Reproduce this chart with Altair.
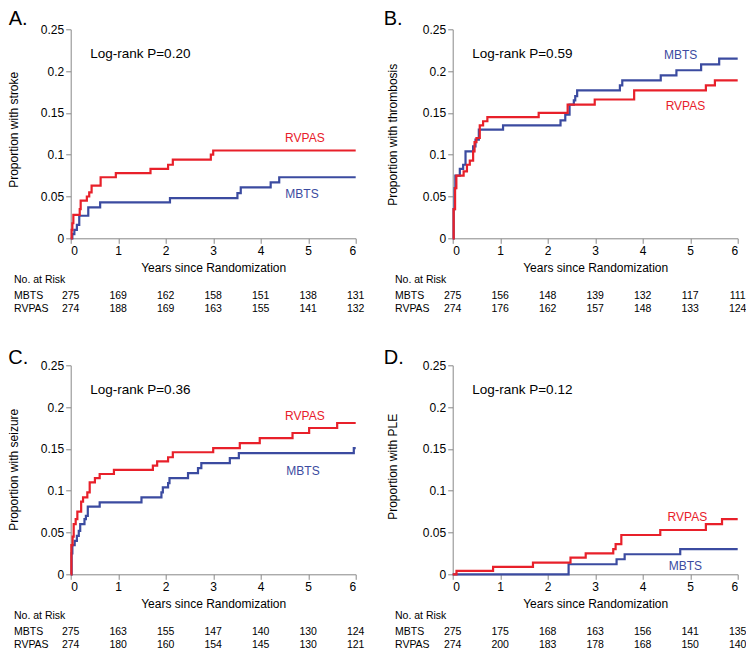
import altair as alt
import pandas as pd

RED = "#e8202a"
BLUE = "#3b4ba0"
FONT = "Liberation Sans"

YEARS = [0, 1, 2, 3, 4, 5, 6]
Y_TICKS = [0, 0.05, 0.1, 0.15, 0.2, 0.25]
ARMS = ["MBTS", "RVPAS"]
RISK_HEADER = "No. at Risk"
X_TITLE = "Years since Randomization"

# ---- Panel A: stroke ----
A_letter = "A."
A_ytitle = "Proportion with stroke"
A_pval = "Log-rank P=0.20"
A_mbts_t = [0, 0.035, 0.077, 0.13, 0.18, 0.37, 0.62, 2.09, 3.51, 3.58, 4.21, 4.39, 6]
A_mbts_p = [0, 0.005, 0.01, 0.016, 0.027, 0.037, 0.043, 0.048, 0.054, 0.061, 0.067, 0.073, 0.073]
A_rvpas_t = [0, 0.02, 0.035, 0.056, 0.19, 0.21, 0.34, 0.39, 0.44, 0.63, 0.95, 1.68, 2.05, 2.15, 2.95, 3.0, 6]
A_rvpas_p = [0, 0.01, 0.018, 0.028, 0.035, 0.045, 0.05, 0.055, 0.063, 0.073, 0.078, 0.083, 0.088, 0.094, 0.1, 0.105, 0.105]
A_risk_mbts = [275, 169, 162, 158, 151, 138, 131]
A_risk_rvpas = [274, 188, 169, 163, 155, 141, 132]
A_lab_mbts = (4.87, 0.0535)
A_lab_rvpas = (4.93, 0.1196)

# ---- Panel B: thrombosis ----
B_letter = "B."
B_ytitle = "Proportion with thrombosis"
B_pval = "Log-rank P=0.59"
B_mbts_t = [0, 0.02, 0.04, 0.056, 0.15, 0.22, 0.27, 0.43, 0.48, 0.55, 1.06, 2.27, 2.37, 2.46, 2.55, 2.58, 2.62, 3.52, 3.57, 4.38, 4.71, 5.23, 5.61, 6]
B_mbts_p = [0, 0.035, 0.06, 0.075, 0.083, 0.088, 0.104, 0.11, 0.118, 0.13, 0.135, 0.141, 0.148, 0.16, 0.165, 0.17, 0.177, 0.183, 0.189, 0.195, 0.201, 0.208, 0.215, 0.215]
B_rvpas_t = [0, 0.02, 0.05, 0.077, 0.23, 0.3, 0.36, 0.43, 0.46, 0.5, 0.57, 0.64, 0.73, 1.81, 2.42, 2.99, 3.82, 5.33, 5.52, 6]
B_rvpas_p = [0, 0.035, 0.06, 0.075, 0.08, 0.088, 0.093, 0.104, 0.115, 0.12, 0.135, 0.14, 0.145, 0.15, 0.16, 0.166, 0.177, 0.183, 0.189, 0.189]
B_risk_mbts = [275, 156, 148, 139, 132, 117, 111]
B_risk_rvpas = [274, 176, 162, 157, 148, 133, 124]
B_lab_mbts = (4.80, 0.219)
B_lab_rvpas = (4.90, 0.158)

# ---- Panel C: seizure ----
C_letter = "C."
C_ytitle = "Proportion with seizure"
C_pval = "Log-rank P=0.36"
C_mbts_t = [0, 0.02, 0.035, 0.084, 0.13, 0.17, 0.2, 0.29, 0.32, 0.36, 0.61, 1.49, 1.91, 1.94, 2.05, 2.08, 2.47, 2.68, 2.75, 3.35, 3.54, 5.96, 6]
C_mbts_p = [0, 0.025, 0.035, 0.04, 0.046, 0.052, 0.06, 0.066, 0.07, 0.081, 0.086, 0.092, 0.098, 0.104, 0.109, 0.115, 0.121, 0.127, 0.133, 0.139, 0.145, 0.151, 0.151]
C_rvpas_t = [0, 0.014, 0.04, 0.063, 0.105, 0.14, 0.22, 0.26, 0.35, 0.4, 0.51, 0.61, 0.91, 1.73, 1.82, 2.05, 2.15, 3.0, 3.56, 3.98, 4.67, 5.02, 5.61, 6]
C_rvpas_p = [0, 0.035, 0.045, 0.06, 0.066, 0.075, 0.087, 0.092, 0.098, 0.11, 0.115, 0.12, 0.125, 0.13, 0.135, 0.14, 0.146, 0.151, 0.157, 0.163, 0.169, 0.175, 0.181, 0.181]
C_risk_mbts = [275, 163, 155, 147, 140, 130, 124]
C_risk_rvpas = [274, 180, 160, 154, 145, 130, 121]
C_lab_mbts = (4.89, 0.124)
C_lab_rvpas = (4.93, 0.189)

# ---- Panel D: PLE ----
D_letter = "D."
D_ytitle = "Proportion with PLE"
D_pval = "Log-rank P=0.12"
D_mbts_t = [0, 2.44, 3.45, 3.62, 4.79, 6]
D_mbts_p = [0, 0.012, 0.018, 0.024, 0.03, 0.03]
D_rvpas_t = [0, 0.08, 0.85, 1.69, 2.48, 2.8, 3.38, 3.43, 3.55, 4.37, 5.33, 5.67, 6]
D_rvpas_p = [0, 0.004, 0.009, 0.014, 0.02, 0.025, 0.03, 0.036, 0.047, 0.053, 0.06, 0.066, 0.066]
D_risk_mbts = [275, 175, 168, 163, 156, 141, 135]
D_risk_rvpas = [274, 200, 183, 178, 168, 150, 140]
D_lab_mbts = (4.90, 0.0096)
D_lab_rvpas = (4.94, 0.069)

W, H = 285, 209


def panel(letter, ytitle, pval, mb_t, mb_p, rv_t, rv_p, risk_mb, risk_rv,
          lab_mb, lab_rv, title_x, title_y, letter_x, letter_y, tab_x):
    x_enc = alt.X("t:Q", scale=alt.Scale(domain=[0, 6], nice=False),
                  axis=alt.Axis(values=YEARS, format="d", title=X_TITLE,
                                titleY=24, titleBaseline="top"))
    y_enc = alt.Y("p:Q", scale=alt.Scale(domain=[0, 0.25], nice=False),
                  axis=alt.Axis(values=Y_TICKS, format="~g", title=ytitle,
                                titleX=title_x, titleY=title_y, titleAngle=270,
                                titleAlign="center", titleBaseline="alphabetic"))

    df_mb = pd.DataFrame({"t": mb_t, "p": mb_p})
    df_rv = pd.DataFrame({"t": rv_t, "p": rv_p})
    line_mb = alt.Chart(df_mb).mark_line(interpolate="step-after", strokeWidth=2.2,
                                         color=BLUE).encode(x=x_enc, y=y_enc)
    line_rv = alt.Chart(df_rv).mark_line(interpolate="step-after", strokeWidth=2.2,
                                         color=RED).encode(x="t:Q", y="p:Q")

    labs = pd.DataFrame({"t": [lab_mb[0], lab_rv[0]], "p": [lab_mb[1], lab_rv[1]],
                         "arm": ARMS})
    lab_marks = alt.Chart(labs).mark_text(fontSize=12, font=FONT, baseline="middle",
                                          align="center").encode(
        x="t:Q", y="p:Q", text="arm:N",
        color=alt.Color("arm:N", scale=alt.Scale(domain=ARMS, range=[BLUE, RED]),
                        legend=None))

    pv = alt.Chart(pd.DataFrame({"s": [pval]})).mark_text(
        fontSize=13.5, font=FONT, align="left", baseline="middle", color="black"
    ).encode(x=alt.value(19.5), y=alt.value(24.5), text="s:N")

    let = alt.Chart(pd.DataFrame({"s": [letter]})).mark_text(
        fontSize=20, font=FONT, align="left", baseline="top", color="black"
    ).encode(x=alt.value(letter_x), y=alt.value(letter_y), text="s:N")

    header = alt.Chart(pd.DataFrame({"s": [RISK_HEADER]})).mark_text(
        fontSize=10.5, font=FONT, align="left", baseline="middle", color="black"
    ).encode(x=alt.value(tab_x), y=alt.value(250.5), text="s:N")

    layers = [line_mb, line_rv, lab_marks, pv, let, header]
    for arm, vals, yy in [(ARMS[0], risk_mb, 267), (ARMS[1], risk_rv, 280)]:
        rowlab = alt.Chart(pd.DataFrame({"s": [arm]})).mark_text(
            fontSize=10.5, font=FONT, align="left", baseline="middle", color="black"
        ).encode(x=alt.value(tab_x), y=alt.value(yy), text="s:N")
        nums = alt.Chart(pd.DataFrame({"t": YEARS, "n": vals})).mark_text(
            fontSize=10.5, font=FONT, align="center", baseline="middle", color="black"
        ).encode(x="t:Q", y=alt.value(yy), text="n:Q")
        layers += [rowlab, nums]

    return alt.layer(*layers).properties(width=W, height=H)


pA = panel(A_letter, A_ytitle, A_pval, A_mbts_t, A_mbts_p, A_rvpas_t, A_rvpas_p,
           A_risk_mbts, A_risk_rvpas, A_lab_mbts, A_lab_rvpas, -53.5, 100, -62, -20.5, -56.7)
pB = panel(B_letter, B_ytitle, B_pval, B_mbts_t, B_mbts_p, B_rvpas_t, B_rvpas_p,
           B_risk_mbts, B_risk_rvpas, B_lab_mbts, B_lab_rvpas, -56.5, 105, -69, -20.5, -57.7)
pC = panel(C_letter, C_ytitle, C_pval, C_mbts_t, C_mbts_p, C_rvpas_t, C_rvpas_p,
           C_risk_mbts, C_risk_rvpas, C_lab_mbts, C_lab_rvpas, -53.5, 104, -62.5, -17, -56.7)
pD = panel(D_letter, D_ytitle, D_pval, D_mbts_t, D_mbts_p, D_rvpas_t, D_rvpas_p,
           D_risk_mbts, D_risk_rvpas, D_lab_mbts, D_lab_rvpas, -56.5, 101, -69, -17, -57.7)

chart = alt.concat(pA, pB, pC, pD, columns=2, spacing={"row": 127, "column": 97},
                   bounds="flush").properties(
    autosize=alt.AutoSizeParams(type="none"),
    padding={"left": 62.7, "top": 21.3, "right": 675.3, "bottom": 620.7}
).configure(
    font=FONT
).configure_axis(
    grid=False, domainColor="#888888", tickColor="#888888", tickSize=5,
    labelColor="black", labelFont=FONT, labelFontSize=12, labelPadding=2,
    titleColor="black", titleFont=FONT, titleFontSize=12, titleFontWeight="normal",
    domainWidth=1, tickWidth=1
).configure_view(stroke=None)

chart.save("out.html", embed_options={"renderer": "svg", "actions": False})
